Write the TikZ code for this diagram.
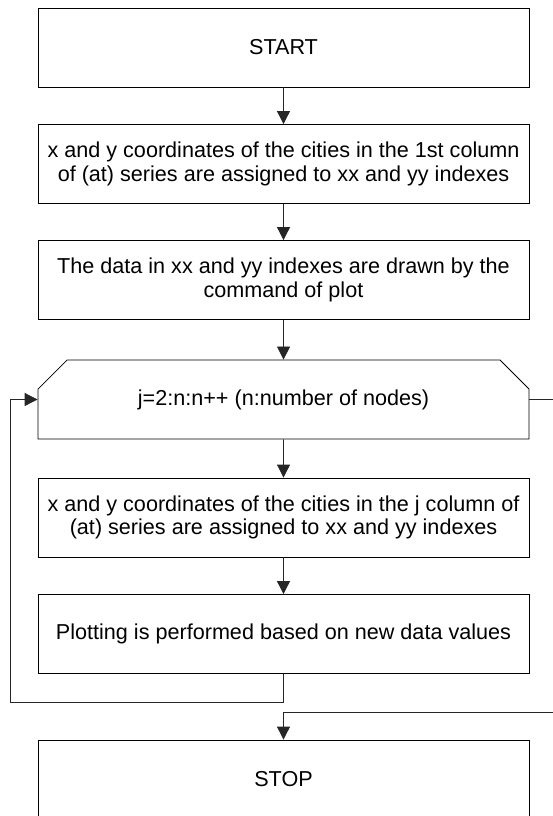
\documentclass[tikz,border=0pt]{standalone}
\usepackage{fontspec}
\setmainfont{Liberation Sans}
\usetikzlibrary{shapes.misc, arrows.meta}
\tikzset{stepbox/.style={draw,line width=0.8pt,minimum width=491pt,minimum height=79pt,align=center,inner sep=0pt},
         loopbox/.style={stepbox,chamfered rectangle,chamfered rectangle corners={north west,north east},
                         chamfered rectangle xsep=20pt,chamfered rectangle ysep=19pt},
         flow/.style={-{Triangle[width=13pt,length=13pt]},line width=0.8pt,draw=black!85},
        }

\begin{document}
\begin{tikzpicture}[x=1pt,y=-1pt,font=\fontsize{21.6}{23.5}\selectfont]
        \useasboundingbox (0,0) rectangle (553,816);
        \clip (0,0) rectangle (553,816);

        \node[stepbox](start)at(283.5,47.5){START};
        \node[stepbox](coords)at(283.5,164){x and y coordinates of the cities in the 1st column\\of (at) series are assigned to xx and yy indexes};
        \node[stepbox](drawn)at(283.5,280){The data in xx and yy indexes are drawn by the\\command of plot};
        \node[loopbox](loop)at(283.5,399.5){j=2:n:n++ (n:number of nodes)};
        \node[stepbox](jcoords)at(283.5,517.5){x and y coordinates of the cities in the j column of\\(at) series are assigned to xx and yy indexes};
        \node[stepbox](plotting)at(283.5,634){Plotting is performed based on new data values};
        \node[stepbox](stop)at(283.5,779.5){STOP};

        \coordinate(back)at(10,702);
        \coordinate(exit)at(570,712);

        \draw[flow](start)--(coords);
        \draw[flow](coords)--(drawn);
        \draw[flow](drawn)--(loop);
        \draw[flow](loop)--(jcoords);
        \draw[flow](jcoords)--(plotting);

        \draw[flow](plotting.south)|-(back)|-(loop.west);
        \draw[flow](loop.east)-|(exit)-|(stop.north);
    \end{tikzpicture}
\end{document}
